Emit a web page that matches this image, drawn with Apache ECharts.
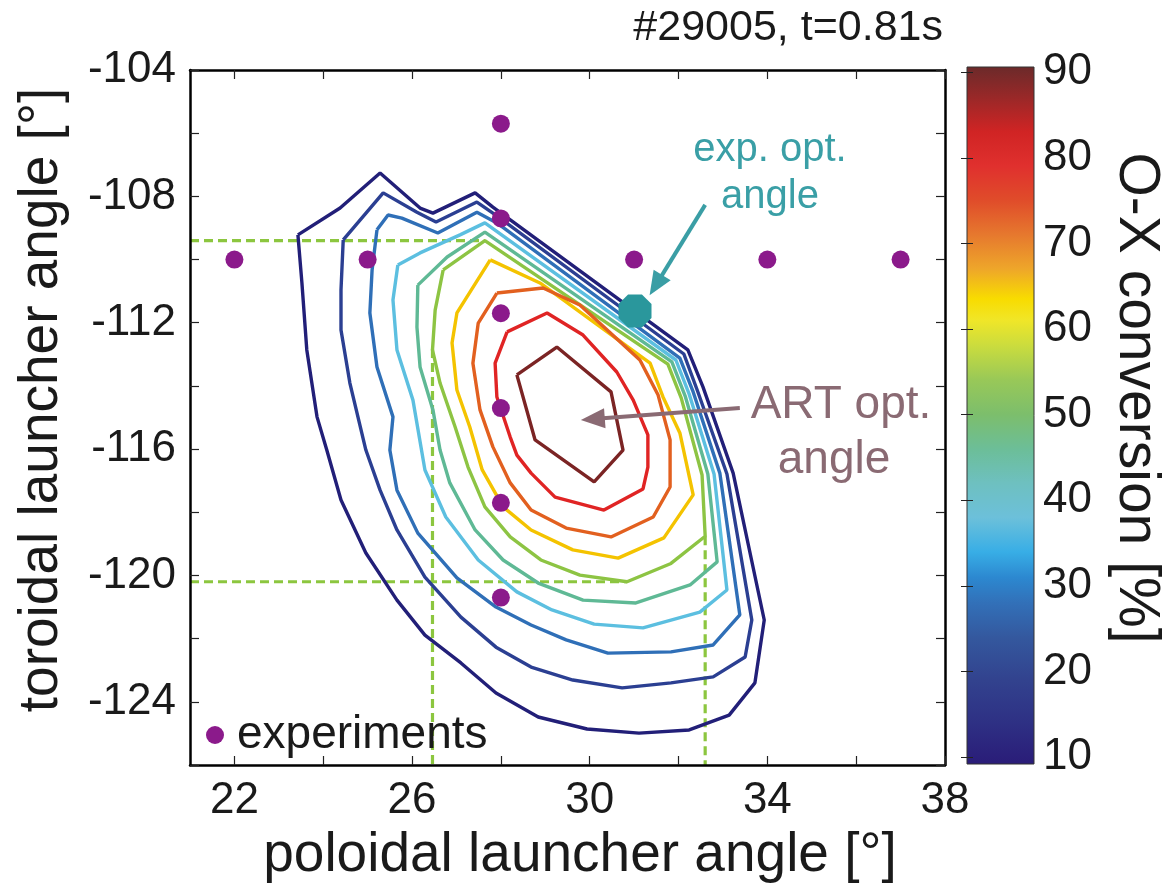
<!DOCTYPE html>
<html>
<head>
<meta charset="utf-8">
<script src="https://cdn.jsdelivr.net/npm/echarts@6/dist/echarts.min.js"></script>
<style>
  html, body { margin: 0; padding: 0; background: #ffffff; }
  #chart { width: 1169px; height: 891px; }
</style>
</head>
<body>
<div id="chart"></div>
<script>
const FONT = "'Liberation Sans', Arial, Helvetica, sans-serif";

// ---- axes ----
const poloidalRange = [21, 38];
const toroidalRange = [-126, -104];
const poloidalTicks = [22, 24, 26, 28, 30, 32, 34, 36, 38];
const poloidalLabels = [22, 26, 30, 34, 38];
const toroidalTicks = [-126, -124, -122, -120, -118, -116, -114, -112, -110, -108, -106, -104];
const toroidalLabels = [-124, -120, -116, -112, -108, -104];

// ---- colour bar ----
const cbarRange = [9.2, 90.6];
const cbarTicks = [10, 20, 30, 40, 50, 60, 70, 80, 90];

// ---- O-X conversion contours [poloidal deg, toroidal deg] ----
const contourLevels = [10, 18, 26, 34, 42, 50, 58, 66, 74, 82];
const contourColors = ['#221f78', '#2b3f92', '#2f6fb7', '#5cbfe0', '#5fb995',
                       '#8dc443', '#f4c300', '#e2601f', '#e02424', '#7b2424'];

const contour10 = [[23.43,-109.22],[24.38,-108.37],[25.28,-107.26],[26.18,-108.37],[26.47,-108.53],
  [27.42,-107.89],[27.82,-108.34],[32.21,-112.86],[32.55,-114.03],[33.23,-116.76],[33.93,-121.41],
  [33.72,-123.40],[33.14,-124.42],[32.24,-124.89],[31.11,-124.99],[29.94,-124.86],[28.84,-124.48],
  [27.89,-123.72],[27.10,-122.77],[26.29,-121.89],[25.66,-120.78],[24.96,-119.29],[24.40,-117.61],
  [24.08,-116.03],[23.86,-114.98],[23.63,-112.86],[23.52,-110.74],[23.43,-109.22]];
const contour18 = [[24.45,-109.38],[25.35,-107.89],[26.11,-108.50],[26.54,-108.81],[27.46,-108.18],
  [27.91,-108.62],[32.12,-112.99],[32.42,-114.13],[33.09,-116.79],[33.65,-121.41],[33.50,-122.58],
  [32.78,-123.21],[31.83,-123.40],[30.73,-123.56],[29.62,-123.31],[28.68,-122.90],[27.89,-122.27],
  [27.10,-121.32],[26.29,-120.05],[25.66,-118.56],[25.28,-117.30],[24.96,-116.03],[24.60,-113.91],
  [24.40,-112.23],[24.40,-110.96],[24.45,-109.38]];
const contour26 = [[25.21,-109.06],[25.46,-108.59],[25.77,-108.69],[26.58,-109.16],[27.46,-108.50],
  [27.91,-108.84],[32.03,-113.12],[32.33,-114.19],[32.93,-116.76],[33.38,-121.25],[32.78,-122.20],
  [31.83,-122.42],[30.41,-122.46],[29.47,-122.04],[28.68,-121.57],[27.89,-121.00],[27.01,-120.08],
  [26.13,-118.66],[25.66,-117.30],[25.50,-116.03],[25.57,-114.98],[25.21,-113.40],[25.05,-111.69],
  [25.10,-110.33],[25.21,-109.06]];
const contour34 = [[25.68,-110.17],[26.18,-109.79],[27.08,-109.22],[27.64,-108.84],[31.94,-113.18],
  [32.24,-114.26],[32.80,-116.79],[33.09,-120.46],[32.48,-121.16],[31.20,-121.66],[30.10,-121.54],
  [29.15,-121.09],[28.36,-120.52],[27.49,-119.51],[26.76,-118.15],[26.29,-116.66],[26.02,-114.45],
  [25.66,-112.86],[25.57,-111.28],[25.68,-110.17]];
const contour42 = [[26.13,-110.81],[26.79,-109.92],[27.64,-109.13],[31.85,-113.24],[32.15,-114.32],
  [32.66,-116.79],[32.87,-119.57],[32.26,-120.30],[31.04,-120.87],[29.85,-120.78],[28.84,-120.24],
  [28.05,-119.51],[27.42,-118.56],[26.85,-117.07],[26.63,-116.03],[26.47,-114.76],[26.18,-113.40],
  [26.11,-112.14],[26.13,-110.81]];
const contour50 = [[26.70,-110.33],[27.64,-109.40],[31.76,-113.31],[32.06,-114.38],[32.53,-116.82],
  [32.60,-118.76],[31.83,-119.62],[30.84,-120.20],[29.78,-119.99],[28.90,-119.51],[28.21,-118.78],
  [27.64,-117.83],[27.26,-116.57],[26.97,-115.30],[26.63,-113.91],[26.46,-112.86],[26.52,-111.60],
  [26.70,-110.33]];
const contour58 = [[27.76,-110.01],[28.88,-110.74],[31.36,-113.28],[31.65,-114.35],[32.03,-115.49],
  [32.33,-117.45],[31.67,-118.81],[30.64,-119.45],[29.62,-119.19],[28.68,-118.56],[28.05,-117.83],
  [27.58,-116.66],[27.30,-115.30],[27.01,-114.13],[26.90,-112.64],[27.01,-111.69],[27.76,-110.01]];
const contour66 = [[27.91,-111.06],[28.95,-110.90],[29.78,-111.44],[31.13,-113.18],[31.54,-114.29],
  [31.81,-115.71],[31.81,-117.20],[31.43,-118.15],[30.48,-118.78],[29.47,-118.50],[28.68,-117.93],
  [28.21,-117.07],[27.82,-115.93],[27.53,-114.76],[27.37,-113.28],[27.49,-112.01],[27.91,-111.06]];
const contour74 = [[28.14,-112.29],[29.04,-111.69],[29.85,-112.39],[30.61,-113.56],[30.98,-114.45],
  [31.31,-115.55],[31.31,-116.57],[31.20,-117.26],[30.32,-117.93],[29.22,-117.52],[28.68,-116.76],
  [28.36,-116.19],[28.21,-115.62],[27.91,-114.35],[27.87,-113.28],[28.14,-112.29]];
const contour82 = [[28.36,-113.65],[29.26,-112.77],[30.48,-114.19],[30.75,-116.03],[30.10,-117.04],
  [28.77,-115.71],[28.36,-113.65]];
const contours = [contour10, contour18, contour26, contour34, contour42,
                  contour50, contour58, contour66, contour74, contour82];

// ---- extent of the 50 % contour (dashed guides) ----
const halfTop = -109.4, halfBottom = -120.2, halfLeft = 26.46, halfRight = 32.6;
const halfTopEnd = 27.64, halfBottomEnd = 30.84, halfLeftStart = -112.83, halfRightStart = -118.76;

// ---- experiments ----
const expPoloidal = [22, 25, 28, 28, 31, 34, 37, 28, 28, 28, 28];
const expToroidal = [-110, -110, -105.7, -108.7, -110, -110, -110, -111.7, -114.7, -117.7, -120.7];

// ---- optima and their pointers ----
const expOptimum = [31.02, -111.63];
const expArrow = [[32.60, -108.27], [31.49, -110.81]];
const artArrow = [[33.38, -114.70], [30.07, -115.05]];

// colormap of the colour bar: [value, colour]
const cmapStops = [
  [90.6, '#6b2a2a'], [87, '#992828'], [83, '#d02424'], [79, '#e0302e'], [75, '#e04c2a'],
  [71, '#e6782e'], [67, '#eea62a'], [63.5, '#f8dc00'], [61, '#f0e628'], [58, '#cadc3e'],
  [54, '#98c858'], [50, '#7cbe6c'], [46, '#6cbe98'], [42, '#6ec0c0'], [38, '#6cc0da'],
  [34, '#38aee6'], [31, '#2c88d0'], [28, '#3270b8'], [24, '#34589e'], [19, '#32428e'],
  [14, '#2e3084'], [9.2, '#2a1c78']
];

const chart = echarts.init(document.getElementById('chart'), null, { renderer: 'canvas' });

const frameLine = { show: true, onZero: false, lineStyle: { color: '#000', width: 2.5 } };
const innerTick = (vals) => ({ show: true, inside: true, length: 9, customValues: vals,
  lineStyle: { color: '#222', width: 1.2 } });
const tickFont = { fontFamily: FONT, fontSize: 44, color: '#1a1a1a' };

const series = [];

// dashed guides
const guideStyle = { color: '#8cc63f', width: 3.2, type: [9, 5] };
[
  [[poloidalRange[0], halfTop], [halfTopEnd, halfTop]],
  [[poloidalRange[0], halfBottom], [halfBottomEnd, halfBottom]],
  [[halfLeft, halfLeftStart], [halfLeft, toroidalRange[0]]],
  [[halfRight, halfRightStart], [halfRight, toroidalRange[0]]]
].forEach(seg => series.push({
  type: 'line', xAxisIndex: 0, yAxisIndex: 0, data: seg, showSymbol: false,
  lineStyle: guideStyle, z: 2, silent: true
}));

// contour lines
contours.forEach((pts, i) => series.push({
  name: contourLevels[i] + '%', type: 'line', xAxisIndex: 0, yAxisIndex: 0,
  data: pts, showSymbol: false, smooth: false,
  lineStyle: { color: contourColors[i], width: 3.4 }, z: 3, silent: true
}));

// experimental points
series.push({
  name: 'experiments', type: 'scatter', xAxisIndex: 0, yAxisIndex: 0,
  data: expPoloidal.map((p, i) => [p, expToroidal[i]]),
  symbol: 'circle', symbolSize: 18, itemStyle: { color: '#8b1a8b', opacity: 1 }, z: 5
});

// experimental optimum
series.push({
  type: 'scatter', xAxisIndex: 0, yAxisIndex: 0, data: [expOptimum],
  symbol: 'path://M29,0 L71,0 L100,29 L100,71 L71,100 L29,100 L0,71 L0,29 Z',
  symbolSize: 33, itemStyle: { color: '#2a979c', opacity: 1 }, z: 6, silent: true
});

// pointers
function arrowSeries(seg, color) {
  return {
    type: 'line', xAxisIndex: 0, yAxisIndex: 0, data: [], z: 7,
    markLine: {
      silent: true, animation: false, symbol: ['none', 'triangle'], symbolSize: [20, 24],
      label: { show: false },
      lineStyle: { color: color, width: 4, type: 'solid', opacity: 1 },
      data: [[{ coord: seg[0] }, { coord: seg[1] }]]
    }
  };
}
series.push(arrowSeries(expArrow, '#3a9ea5'));
series.push(arrowSeries(artArrow, '#8a6a73'));

// colour bar
series.push({
  type: 'custom', xAxisIndex: 2, yAxisIndex: 2, silent: true, z: 2,
  data: [[0, cbarRange[0], cbarRange[1]]],
  encode: { x: 0, y: [1, 2] },
  renderItem: (params, api) => {
    const lo = api.value(1), hi = api.value(2);
    const p0 = api.coord([0, hi]);
    const p1 = api.coord([1, lo]);
    const stops = cmapStops.map(s => ({ offset: (hi - s[0]) / (hi - lo), color: s[1] }));
    return {
      type: 'rect',
      shape: { x: p0[0], y: p0[1], width: p1[0] - p0[0], height: p1[1] - p0[1] },
      style: { fill: new echarts.graphic.LinearGradient(0, 0, 0, 1, stops), stroke: '#333', lineWidth: 1 }
    };
  }
});

const option = {
  animation: false,
  backgroundColor: '#ffffff',
  textStyle: { fontFamily: FONT },
  grid: [
    { left: 190, top: 70, width: 755, height: 695 },
    { left: 967, top: 67, width: 67, height: 697 }
  ],
  xAxis: [
    { type: 'value', gridIndex: 0, min: poloidalRange[0], max: poloidalRange[1], position: 'bottom',
      axisLine: frameLine, axisTick: innerTick(poloidalTicks), splitLine: { show: false },
      axisLabel: Object.assign({ customValues: poloidalLabels, margin: 14 }, tickFont), z: 4 },
    { type: 'value', gridIndex: 0, min: poloidalRange[0], max: poloidalRange[1], position: 'top',
      axisLine: frameLine, axisTick: innerTick(poloidalTicks), splitLine: { show: false },
      axisLabel: { show: false }, z: 4 },
    { type: 'value', gridIndex: 1, min: 0, max: 1, show: false }
  ],
  yAxis: [
    { type: 'value', gridIndex: 0, min: toroidalRange[0], max: toroidalRange[1], position: 'left',
      axisLine: frameLine, axisTick: innerTick(toroidalTicks), splitLine: { show: false },
      axisLabel: Object.assign({ customValues: toroidalLabels, margin: 14 }, tickFont), z: 4 },
    { type: 'value', gridIndex: 0, min: toroidalRange[0], max: toroidalRange[1], position: 'right',
      axisLine: frameLine, axisTick: innerTick(toroidalTicks), splitLine: { show: false },
      axisLabel: { show: false }, z: 4 },
    { type: 'value', gridIndex: 1, min: cbarRange[0], max: cbarRange[1], position: 'right',
      axisLine: { show: false }, splitLine: { show: false },
      axisTick: { show: true, inside: true, length: 6, customValues: cbarTicks, lineStyle: { color: '#222', width: 1 } },
      axisLabel: Object.assign({ customValues: cbarTicks, margin: 9 }, tickFont), z: 6 },
    { type: 'value', gridIndex: 1, min: cbarRange[0], max: cbarRange[1], position: 'left',
      axisLine: { show: false }, splitLine: { show: false },
      axisTick: { show: true, inside: true, length: 6, customValues: cbarTicks, lineStyle: { color: '#222', width: 1 } },
      axisLabel: { show: false }, z: 6 }
  ],
  legend: {
    data: ['experiments'], left: 201, top: 707, orient: 'horizontal', selectedMode: false,
    icon: 'circle', itemWidth: 18, itemHeight: 18,
    textStyle: { fontFamily: FONT, fontSize: 46, color: '#1a1a1a', padding: [0, 0, 0, 8] }
  },
  graphic: [
    { type: 'text', x: 943, y: 28, style: { text: '#29005, t=0.81s', font: '43px ' + FONT, fill: '#1a1a1a', align: 'right', verticalAlign: 'middle' } },
    { type: 'text', x: 580, y: 856, style: { text: 'poloidal launcher angle [°]', font: '55px ' + FONT, fill: '#1a1a1a', align: 'center', verticalAlign: 'middle' } },
    { type: 'text', x: 42, y: 400, rotation: Math.PI / 2, style: { text: 'toroidal launcher angle [°]', font: '55px ' + FONT, fill: '#1a1a1a', align: 'center', verticalAlign: 'middle' } },
    { type: 'text', x: 1136, y: 398, rotation: -Math.PI / 2, style: { text: 'O-X conversion [%]', font: '57px ' + FONT, fill: '#1a1a1a', align: 'center', verticalAlign: 'middle' } },
    { type: 'text', x: 770, y: 150, style: { text: 'exp. opt.', font: '40px ' + FONT, fill: '#3a9fa6', align: 'center', verticalAlign: 'middle' } },
    { type: 'text', x: 770, y: 197, style: { text: 'angle', font: '40px ' + FONT, fill: '#3a9fa6', align: 'center', verticalAlign: 'middle' } },
    { type: 'text', x: 841, y: 405, style: { text: 'ART opt.', font: '46px ' + FONT, fill: '#8a6a73', align: 'center', verticalAlign: 'middle' } },
    { type: 'text', x: 834, y: 460, style: { text: 'angle', font: '46px ' + FONT, fill: '#8a6a73', align: 'center', verticalAlign: 'middle' } }
  ],
  series: series
};

chart.setOption(option);
</script>
</body>
</html>
